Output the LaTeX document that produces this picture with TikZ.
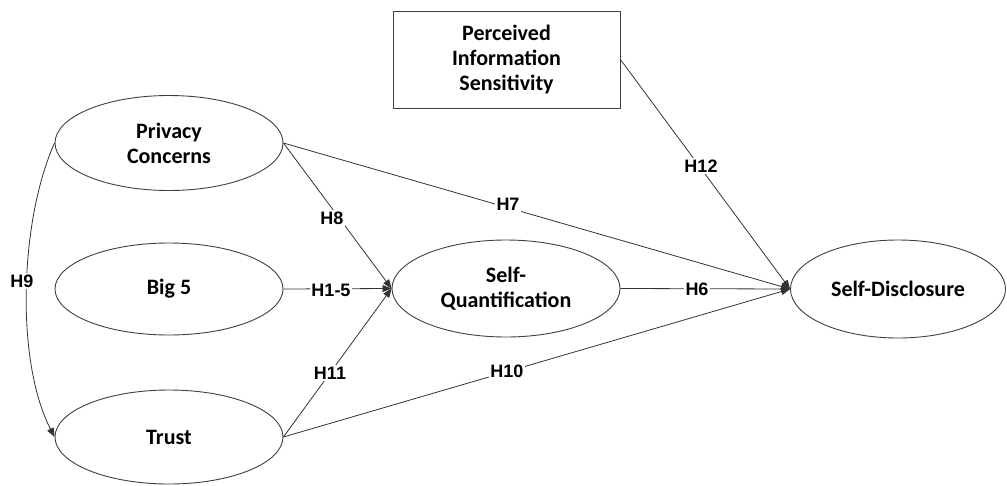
\documentclass[tikz,border=0pt]{standalone}
\usepackage{fontspec}
\setmainfont{Carlito}
\newfontfamily\labfont{Liberation Sans}
\usetikzlibrary{shapes.geometric,arrows.meta}
\begin{document}
\begin{tikzpicture}[x=1pt,y=-1pt,
  construct/.style={ellipse,draw=black!75,line width=0.9pt,inner sep=0pt,
    align=center,font=\fontsize{22}{25}\selectfont\bfseries},
  boxnode/.style={rectangle,draw=black!75,line width=0.9pt,inner sep=0pt,
    align=center,font=\fontsize{22}{25}\selectfont\bfseries,
    minimum width=227pt,minimum height=97pt},
  conn/.style={draw=black!80,line width=0.8pt,-{Triangle[length=9pt,width=7pt]}},
  hyp/.style={fill=white,inner sep=1.5pt,font=\labfont\fontsize{18}{20}\selectfont\bfseries}
]
\useasboundingbox (0,0) rectangle (1007,485);
\fill[white] (0,0) rectangle (1007,485);

\node[construct,minimum width=228pt,minimum height=95pt] (pc) at (169,143) {Privacy\\Concerns};
\node[construct,minimum width=228pt,minimum height=92pt] (b5) at (169,289) {Big 5};
\node[construct,minimum width=228pt,minimum height=94pt] (tr) at (169,437) {Trust};
\node[construct,minimum width=228pt,minimum height=97pt] (sq) at (506,288.5) {Self-\\Quantification};
\node[construct,minimum width=215pt,minimum height=98pt] (sd) at (898,289) {Self-Disclosure};
\node[boxnode] (pis) at (506.5,59.5) {Perceived\\Information\\Sensitivity};

\draw[conn] (pc.east) -- (sq.west);
\draw[conn] (pc.east) -- (sd.west);
\draw[conn] (b5.east) -- (sq.west);
\draw[conn] (tr.east) -- (sq.west);
\draw[conn] (tr.east) -- (sd.west);
\draw[conn] (sq.east) -- (sd.west);
\draw[conn] (pis.east) -- (sd.west);
\draw[conn] (pc.west) .. controls (20,220) and (15,360) .. (tr.west);

\node[hyp] (h8) at (332,218) {H8};
\node[hyp] (h15) at (331,290) {H1-5};
\node[hyp] (h11) at (330,373) {H11};
\node[hyp] (h7) at (508,204) {H7};
\node[hyp] (h10) at (507,371) {H10};
\node[hyp] (h6) at (697,289) {H6};
\node[hyp] (h12) at (701,166) {H12};
\node[hyp] (h9) at (22,281) {H9};
\end{tikzpicture}
\end{document}
